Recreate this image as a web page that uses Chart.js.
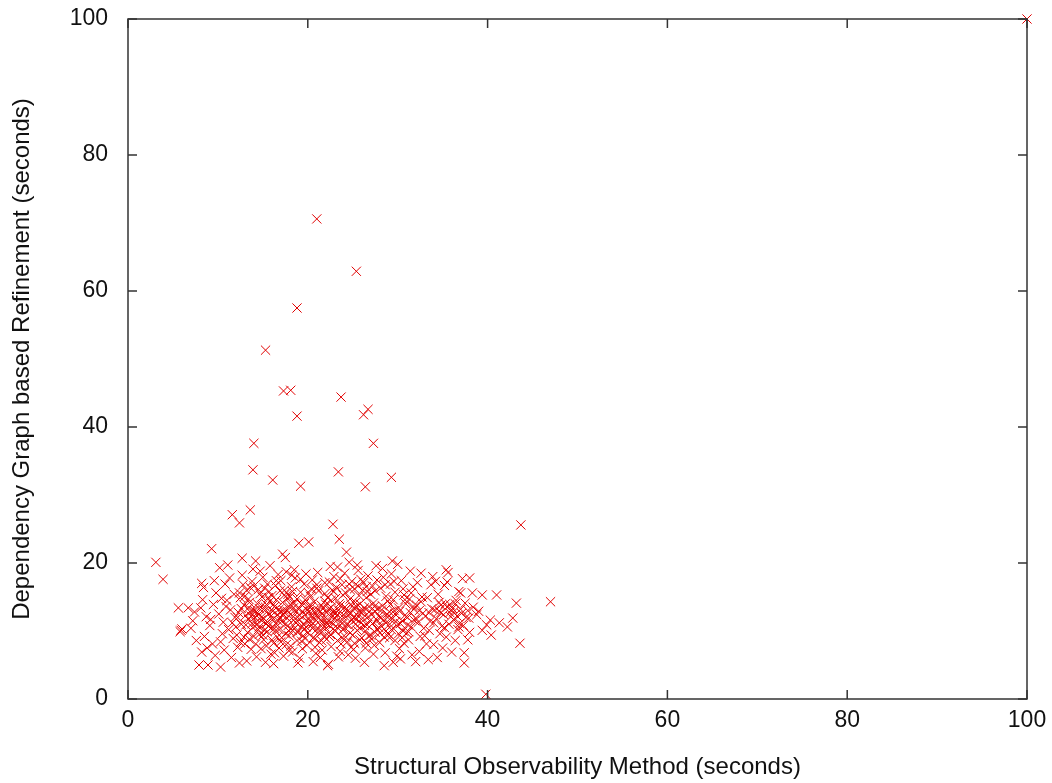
<!DOCTYPE html>
<html>
<head>
<meta charset="utf-8">
<script src="https://cdn.jsdelivr.net/npm/chart.js@4.4.1/dist/chart.umd.min.js"></script>
<style>
  html, body { margin: 0; padding: 0; background: #fff; }
  #plot { display: block; }
</style>
</head>
<body>
<canvas id="plot" width="1052" height="783"></canvas>
<script>
const xTicks = [0, 20, 40, 60, 80, 100];
const yTicks = [0, 20, 40, 60, 80, 100];

// runs that took a long time with the refinement
const outlierPoints = [
  [100, 100], [21.0, 70.6], [25.4, 62.9], [18.8, 57.5], [15.3, 51.3],
  [17.3, 45.3], [18.1, 45.4], [23.7, 44.4], [26.7, 42.6], [26.2, 41.8],
  [18.8, 41.6], [14.0, 37.6], [27.3, 37.6], [13.9, 33.7], [23.4, 33.4],
  [29.3, 32.6], [16.1, 32.2], [19.2, 31.3], [26.4, 31.2], [13.6, 27.8],
  [11.6, 27.1], [12.4, 25.9], [22.8, 25.7], [43.7, 25.6], [39.8, 0.7]
];

// sparse left edge of the cloud
const leftPoints = [
  [3.1, 20.1], [3.9, 17.6], [5.6, 13.4], [5.8, 9.9], [6.0, 10.3], [6.7, 13.4], [5.9, 10.1],
  [7.0, 10.4], [7.4, 12.8], [7.9, 5.0], [7.6, 8.6], [7.2, 11.5],
  [8.1, 13.4], [8.3, 14.6], [8.2, 17.0], [8.2, 6.9], [8.9, 5.0], [8.5, 9.2], [8.7, 12.1], [8.4, 16.4], [8.8, 7.5],
  [9.3, 22.1], [9.1, 10.8], [9.5, 13.9], [9.4, 8.1], [9.8, 15.6], [9.2, 11.7], [9.7, 6.4], [9.6, 17.4],
  [10.2, 19.3], [10.3, 4.7], [10.1, 12.5], [10.5, 9.6], [10.4, 14.8], [10.7, 7.2], [10.8, 16.9], [10.6, 11.3], [10.9, 13.6], [10.3, 8.4],
  [11.1, 19.7], [11.2, 10.2], [11.4, 13.1], [11.8, 15.4], [11.5, 6.1], [11.3, 17.8], [11.7, 8.9], [11.9, 12.0], [11.0, 14.5], [11.6, 11.2]
];

// dense core, 12 to 26 seconds
const corePoints = [
  [12.7, 20.7], [12.1, 9.4], [12.3, 12.7], [12.5, 14.9], [12.8, 16.8], [12.2, 7.6], [12.6, 11.0], [12.9, 13.8], [12.4, 5.3], [12.0, 10.6], [12.7, 18.2], [12.5, 8.3],
  [13.1, 12.3], [13.3, 9.8], [13.5, 14.2], [13.8, 11.1], [13.2, 16.0], [13.7, 7.3], [13.4, 13.4], [13.9, 10.5], [13.0, 15.1], [13.6, 12.8], [13.8, 17.3], [13.2, 5.6], [13.5, 8.8], [13.9, 19.1], [13.4, 11.7],
  [14.1, 13.0], [14.3, 10.9], [14.5, 12.4], [14.7, 15.5], [14.2, 8.1], [14.8, 11.6], [14.4, 14.0], [14.6, 9.5], [14.9, 13.7], [14.0, 16.6], [14.3, 6.2], [14.7, 18.8], [14.5, 10.2], [14.1, 12.0], [14.8, 7.4], [14.2, 20.3], [14.6, 13.3], [14.9, 15.0],
  [15.1, 11.8], [15.3, 13.5], [15.5, 9.9], [15.7, 12.6], [15.2, 16.3], [15.8, 14.4], [15.4, 7.8], [15.6, 10.7], [15.9, 12.2], [15.0, 17.9], [15.3, 5.4], [15.7, 15.8], [15.5, 11.3], [15.1, 8.7], [15.8, 19.6], [15.4, 13.9], [15.9, 6.6], [15.2, 10.1],
  [16.1, 12.9], [16.3, 10.4], [16.5, 14.6], [16.7, 11.5], [16.2, 8.2], [16.8, 13.2], [16.4, 16.7], [16.6, 9.1], [16.9, 12.0], [16.0, 15.2], [16.3, 6.8], [16.7, 18.3], [16.5, 11.0], [16.1, 13.8], [16.8, 7.5], [16.4, 10.0], [16.9, 15.9], [16.2, 5.2],
  [17.1, 11.4], [17.3, 13.1], [17.5, 9.6], [17.7, 14.8], [17.2, 12.3], [17.8, 10.8], [17.4, 16.0], [17.6, 8.0], [17.9, 13.6], [17.0, 17.4], [17.3, 6.3], [17.7, 11.9], [17.5, 20.8], [17.1, 9.0], [17.8, 15.4], [17.4, 12.7], [17.9, 7.1], [17.6, 18.7], [17.2, 21.3],
  [18.1, 12.5], [18.3, 10.1], [18.5, 14.1], [18.7, 11.2], [18.2, 16.5], [18.8, 8.6], [18.4, 13.4], [18.6, 17.8], [18.9, 9.8], [18.0, 15.0], [18.3, 6.9], [18.7, 12.8], [18.5, 19.0], [18.1, 7.8], [18.8, 14.7], [18.4, 11.6], [18.9, 5.3], [18.6, 10.5], [18.2, 18.2],
  [19.1, 11.7], [19.3, 13.9], [19.5, 9.3], [19.7, 12.4], [19.2, 15.7], [19.8, 10.6], [19.4, 7.4], [19.6, 16.9], [19.9, 13.1], [19.0, 22.9], [19.3, 8.5], [19.7, 14.6], [19.5, 11.0], [19.1, 6.0], [19.8, 18.4], [19.4, 12.9], [19.9, 7.9], [19.6, 10.2],
  [20.1, 23.1], [20.3, 12.2], [20.5, 10.4], [20.7, 14.3], [20.2, 11.5], [20.8, 8.9], [20.4, 16.2], [20.6, 13.0], [20.9, 6.7], [20.0, 9.7], [20.3, 15.1], [20.7, 11.9], [20.5, 17.5], [20.1, 13.7], [20.8, 7.6], [20.4, 10.9], [20.9, 12.6], [20.6, 5.5],
  [21.1, 12.1], [21.3, 10.0], [21.5, 13.8], [21.7, 11.3], [21.2, 15.9], [21.8, 9.2], [21.4, 12.9], [21.6, 7.2], [21.9, 14.4], [21.0, 16.8], [21.3, 8.3], [21.7, 13.3], [21.5, 10.7], [21.1, 18.6], [21.8, 11.8], [21.4, 6.1], [21.9, 15.5], [21.6, 9.9],
  [22.1, 11.1], [22.3, 13.2], [22.5, 9.5], [22.7, 12.3], [22.2, 14.9], [22.8, 10.3], [22.4, 17.2], [22.6, 7.7], [22.9, 11.7], [22.0, 13.9], [22.3, 5.1], [22.7, 16.0], [22.5, 19.5], [22.1, 8.8], [22.8, 12.8], [22.4, 10.8], [22.9, 18.0], [22.6, 14.5], [22.2, 4.9],
  [23.1, 12.6], [23.3, 10.5], [23.5, 14.0], [23.7, 11.4], [23.2, 16.4], [23.8, 9.0], [23.4, 13.1], [23.6, 7.0], [23.9, 15.3], [23.0, 11.9], [23.3, 19.4], [23.7, 8.1], [23.5, 23.5], [23.1, 14.8], [23.8, 12.2], [23.4, 6.2], [23.9, 10.2], [23.6, 17.7],
  [24.1, 13.5], [24.3, 11.0], [24.5, 12.4], [24.7, 9.7], [24.2, 15.6], [24.8, 13.9], [24.4, 8.4], [24.6, 16.9], [24.9, 11.6], [24.0, 10.3], [24.3, 21.6], [24.7, 14.7], [24.5, 6.5], [24.1, 18.5], [24.8, 7.6], [24.4, 12.9], [24.9, 17.3], [24.6, 20.1],
  [25.1, 12.0], [25.3, 14.2], [25.5, 10.1], [25.7, 12.9], [25.2, 16.2], [25.8, 8.7], [25.4, 13.6], [25.6, 18.9], [25.9, 11.2], [25.0, 9.4], [25.3, 6.0], [25.7, 15.2], [25.5, 19.7], [25.1, 7.3], [25.8, 14.0], [25.4, 11.7], [25.9, 17.6],
  [26.1, 13.1], [26.3, 10.8], [26.5, 14.9], [26.7, 12.1], [26.2, 17.1], [26.8, 9.3], [26.4, 7.5], [26.6, 15.8], [26.9, 11.5], [26.0, 12.7], [26.3, 5.4], [26.7, 18.1], [26.5, 8.2], [26.1, 16.0], [26.8, 13.6], [26.4, 10.0]
];

// extra runs packed into the centre of the cloud
const centrePoints = [
  [12.2, 12.0], [12.6, 13.3], [12.9, 9.1], [13.1, 10.9], [13.4, 14.7], [13.7, 12.2], [13.9, 13.0], [14.2, 11.3], [14.4, 12.7], [14.6, 10.6],
  [14.9, 12.1], [15.2, 13.0], [15.4, 11.1], [15.6, 14.9], [15.9, 10.4], [16.1, 11.7], [16.3, 13.6], [16.6, 12.4], [16.8, 10.2], [17.0, 12.8],
  [17.2, 14.2], [17.5, 11.0], [17.7, 12.9], [17.9, 10.0], [18.1, 13.9], [18.4, 12.1], [18.6, 11.3], [18.9, 13.3], [19.1, 12.3], [19.4, 10.7],
  [19.6, 14.0], [19.9, 11.5], [20.2, 12.9], [20.4, 13.6], [20.6, 11.1], [20.9, 10.1], [21.1, 13.1], [21.4, 11.6], [21.6, 12.5], [21.9, 10.6],
  [22.1, 12.7], [22.3, 11.5], [22.6, 13.5], [22.8, 11.0], [23.1, 10.0], [23.3, 12.4], [23.6, 13.7], [23.8, 11.1], [24.1, 12.2], [24.3, 13.3],
  [24.6, 10.8], [24.8, 12.6], [25.1, 13.4], [25.3, 11.0], [25.6, 12.2], [25.8, 10.4], [26.1, 11.9], [26.3, 13.4], [26.6, 10.9], [26.9, 12.9],
  [27.2, 11.1], [27.4, 13.6], [27.7, 10.3], [27.9, 12.2], [28.2, 13.1], [28.4, 11.6], [28.7, 10.0], [28.9, 12.0], [29.2, 13.9], [29.4, 11.8],
  [29.7, 12.5], [29.9, 10.8], [30.2, 12.9], [30.5, 11.5], [30.8, 14.6], [31.1, 10.9], [31.4, 12.7], [31.7, 13.6], [32.0, 11.9], [32.4, 13.0],
  [12.4, 15.6], [13.0, 8.1], [13.6, 16.4], [14.0, 9.2], [14.5, 16.1], [15.0, 9.4], [15.5, 16.9], [16.0, 8.7], [16.5, 17.4], [17.0, 8.4],
  [17.4, 15.3], [17.9, 9.3], [18.3, 15.8], [18.8, 9.9], [19.2, 17.6], [19.7, 8.9], [20.1, 15.6], [20.6, 9.0], [21.0, 16.3], [21.5, 8.6],
  [21.9, 17.1], [22.4, 9.2], [22.9, 15.8], [23.3, 8.6], [23.8, 16.8], [24.2, 9.1], [24.7, 16.1], [25.2, 8.2], [25.6, 16.6], [26.0, 9.0],
  [26.5, 16.5], [27.0, 9.4], [27.5, 15.9], [28.0, 9.7], [28.6, 16.8], [29.1, 9.0], [29.6, 17.3], [30.1, 9.6], [30.6, 16.2], [31.2, 9.9],
  [33.5, 12.7], [34.0, 11.2], [34.6, 12.9], [35.2, 10.5], [35.8, 12.7], [36.4, 14.0], [37.0, 13.2], [37.6, 12.0], [36.8, 10.6], [34.8, 13.8]
];

// thinner right part of the cloud
const rightPoints = [
  [27.1, 12.4], [27.3, 14.1], [27.5, 9.8], [27.7, 11.6], [27.2, 16.6], [27.8, 13.3], [27.4, 7.9], [27.6, 19.6], [27.9, 10.5], [27.0, 15.4], [27.3, 6.6], [27.7, 17.5], [27.5, 12.9], [27.1, 8.8],
  [28.1, 11.9], [28.3, 13.7], [28.5, 9.1], [28.7, 15.1], [28.2, 10.7], [28.8, 12.5], [28.4, 17.9], [28.6, 6.8], [28.9, 14.4], [28.0, 8.3], [28.3, 19.2], [28.7, 11.2], [28.5, 4.9], [28.1, 16.3],
  [29.1, 12.8], [29.3, 10.2], [29.5, 14.6], [29.7, 8.6], [29.2, 16.9], [29.8, 11.4], [29.4, 20.3], [29.6, 13.0], [29.9, 6.3], [29.0, 9.5], [29.3, 18.4], [29.7, 15.7], [29.5, 5.4], [29.1, 11.0],
  [30.1, 13.4], [30.3, 11.1], [30.5, 9.0], [30.7, 15.3], [30.2, 7.4], [30.8, 12.3], [30.4, 17.4], [30.6, 10.0], [30.9, 14.0], [30.0, 19.8], [30.3, 5.9], [30.7, 8.2],
  [31.1, 12.0], [31.3, 14.7], [31.5, 10.6], [31.7, 16.5], [31.2, 8.7], [31.8, 13.2], [31.4, 18.8], [31.6, 6.5], [31.9, 11.5], [31.0, 9.7], [31.5, 15.6],
  [32.1, 13.8], [32.3, 11.3], [32.5, 9.2], [32.7, 15.0], [32.2, 17.1], [32.8, 12.6], [32.4, 7.0], [32.6, 18.5], [32.9, 10.4], [32.0, 5.5], [32.6, 14.3],
  [33.1, 12.2], [33.3, 14.9], [33.5, 10.1], [33.7, 16.8], [33.2, 8.1], [33.8, 13.3], [33.4, 5.8], [33.6, 11.4], [33.9, 18.0], [33.0, 9.3],
  [34.1, 13.1], [34.3, 11.8], [34.5, 15.4], [34.7, 9.6], [34.2, 17.3], [34.8, 12.7], [34.4, 6.1], [34.6, 14.2], [34.9, 10.7], [34.0, 8.0],
  [35.1, 12.4], [35.3, 14.0], [35.5, 13.5], [35.7, 11.0], [35.2, 16.7], [35.8, 13.9], [35.4, 9.1], [35.6, 18.6], [35.9, 12.1], [35.0, 7.5], [35.5, 17.2], [35.4, 19.0],
  [36.1, 13.3], [36.3, 11.6], [36.5, 14.5], [36.7, 10.2], [36.2, 12.8], [36.8, 15.8], [36.4, 8.6], [36.6, 12.2], [36.9, 11.1], [36.0, 6.9],
  [37.1, 12.6], [37.3, 10.8], [37.5, 14.1], [37.8, 8.7], [37.2, 17.7], [37.8, 13.0], [37.4, 6.8], [37.4, 5.3], [37.9, 11.9], [37.0, 15.6],
  [38.0, 17.8], [38.3, 15.6], [38.8, 12.4], [38.0, 9.8], [38.4, 13.5],
  [39.4, 15.3], [39.9, 10.9], [39.4, 10.1], [39.0, 12.9],
  [40.4, 9.4], [40.3, 11.6], [41.0, 15.3], [41.3, 11.2],
  [42.2, 10.6], [42.8, 11.9], [43.2, 14.1], [43.6, 8.2], [47.0, 14.3]
];

const pointsToXY = pts => pts.map(p => ({ x: p[0], y: p[1] }));
const allPoints = [].concat(outlierPoints, leftPoints, corePoints, centrePoints, rightPoints);

const frameColor = "#333";

// gnuplot style frame: full box with ticks pointing inward on every side
const framePlugin = {
  id: "frame",
  afterDraw(chart) {
    const c = chart.ctx;
    const a = chart.chartArea;
    const xs = chart.scales.x;
    const ys = chart.scales.y;
    const len = 9;
    c.save();
    c.strokeStyle = frameColor;
    c.lineWidth = 1.5;
    c.strokeRect(a.left, a.top, a.right - a.left, a.bottom - a.top);
    c.beginPath();
    xTicks.forEach(v => {
      const px = xs.getPixelForValue(v);
      c.moveTo(px, a.bottom);
      c.lineTo(px, a.bottom - len);
      c.moveTo(px, a.top);
      c.lineTo(px, a.top + len);
    });
    yTicks.forEach(v => {
      const py = ys.getPixelForValue(v);
      c.moveTo(a.left, py);
      c.lineTo(a.left + len, py);
      c.moveTo(a.right, py);
      c.lineTo(a.right - len, py);
    });
    c.stroke();
    c.restore();
  }
};

const tickFont = { family: "'Liberation Sans', Arial, sans-serif", size: 23 };
const titleFont = { family: "'Liberation Sans', Arial, sans-serif", size: 24 };

new Chart(document.getElementById("plot"), {
  type: "scatter",
  data: {
    datasets: [
      {
        data: pointsToXY(allPoints),
        pointStyle: "crossRot",
        pointRadius: 6.5,
        pointBorderWidth: 1,
        borderColor: "rgb(225, 0, 0)",
        backgroundColor: "rgb(225, 0, 0)",
        showLine: false,
        clip: 10,
      },
    ],
  },
  options: {
    responsive: false,
    animation: false,
    layout: { padding: { top: 19, right: 25, bottom: 0, left: 0 } },
    plugins: { legend: { display: false }, tooltip: { enabled: false } },
    scales: {
      x: {
        type: "linear",
        min: 0,
        max: 100,
        afterFit: s => { s.height = 84; s.paddingLeft = 0; s.paddingRight = 0; },
        afterBuildTicks: s => { s.ticks = xTicks.map(v => ({ value: v })); },
        grid: { display: false, drawTicks: false },
        border: { display: false },
        ticks: { font: tickFont, color: "#111", padding: 8, maxRotation: 0 },
        title: {
          display: true,
          text: "Structural Observability Method (seconds)",
          font: titleFont,
          color: "#111",
          padding: { top: 0, bottom: 1 },
        },
      },
      y: {
        type: "linear",
        min: 0,
        max: 100,
        afterFit: s => { s.width = 128; s.paddingTop = 0; s.paddingBottom = 0; },
        afterBuildTicks: s => { s.ticks = yTicks.map(v => ({ value: v })); },
        grid: { display: false, drawTicks: false },
        border: { display: false },
        ticks: { font: tickFont, color: "#111", padding: 20 },
        title: {
          display: true,
          text: "Dependency Graph based Refinement (seconds)",
          font: titleFont,
          color: "#111",
          padding: { top: 8, bottom: 0 },
        },
      },
    },
  },
  plugins: [framePlugin],
});
</script>
</body>
</html>
